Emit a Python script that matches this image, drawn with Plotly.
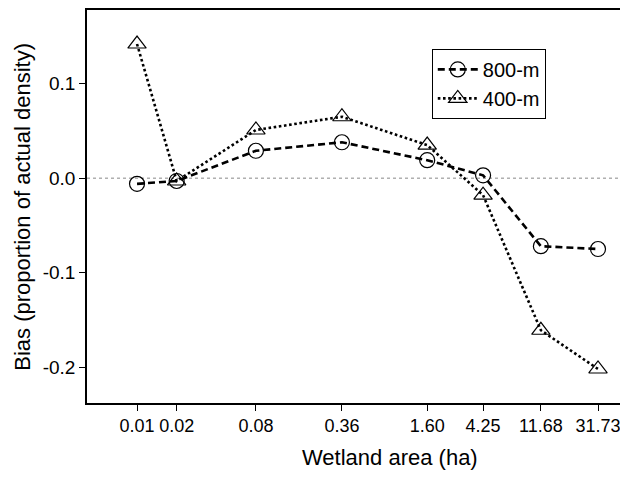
import plotly.graph_objects as go

# Data
area = [0.01, 0.02, 0.08, 0.36, 1.60, 4.25, 11.68, 31.73]
area_labels = ["0.01", "0.02", "0.08", "0.36", "1.60", "4.25", "11.68", "31.73"]
bias_800 = [-0.006, -0.003, 0.029, 0.038, 0.019, 0.003, -0.072, -0.075]
bias_400 = [0.142, -0.003, 0.051, 0.065, 0.035, -0.018, -0.161, -0.202]
y_ticks = [0.1, 0.0, -0.1, -0.2]
y_labels = ["0.1", "0.0", "-0.1", "-0.2"]

FONT = "Arial, Liberation Sans, sans-serif"

fig = go.Figure()
fig.add_trace(go.Scatter(
    x=area, y=bias_800, name="800-m", mode="lines+markers",
    line=dict(color="black", width=2.6, dash="7px,4px"),
    marker=dict(symbol="circle-open", size=15, color="black", line=dict(width=1.2)),
))
fig.add_trace(go.Scatter(
    x=area, y=bias_400, name="400-m", mode="lines+markers",
    line=dict(color="black", width=2.6, dash="2.6px,2.6px"),
    marker=dict(symbol="triangle-up-open", size=16, color="black", line=dict(width=1.2)),
))

fig.add_shape(type="line", xref="paper", x0=0, x1=1, yref="y", y0=0, y1=0,
              line=dict(color="#888888", width=1, dash="dot"), layer="below")

fig.add_annotation(text="Wetland area (ha)", xref="paper", yref="paper",
                   x=0.552, y=-0.139, xanchor="center", yanchor="middle",
                   showarrow=False, font=dict(family=FONT, size=22, color="black"))
fig.add_annotation(text="Bias (proportion of actual density)", xref="paper", yref="paper",
                   x=-0.118, y=0.50, xanchor="center", yanchor="middle", textangle=-90,
                   showarrow=False, font=dict(family=FONT, size=22, color="black"))

fig.update_layout(
    width=628, height=480,
    margin=dict(l=79, r=0, t=0, b=85),
    paper_bgcolor="white", plot_bgcolor="white",
    font=dict(family=FONT, size=18, color="black"),
    showlegend=True,
    legend=dict(x=0.628, y=0.901, xanchor="left", yanchor="top",
                bordercolor="black", borderwidth=1, bgcolor="white",
                font=dict(family=FONT, size=20, color="black"),
                tracegroupgap=0, itemwidth=40),
)
fig.update_xaxes(
    type="log", range=[-2.380, 1.790],
    tickvals=area, ticktext=area_labels,
    ticks="outside", ticklen=6, tickwidth=1, tickcolor="black",
    showline=True, linecolor="black", linewidth=1.5, mirror=True,
    showgrid=False, zeroline=False,
    tickfont=dict(family=FONT, size=18, color="black"),
)
fig.update_yaxes(
    range=[-0.238, 0.178],
    tickvals=y_ticks, ticktext=y_labels,
    ticks="outside", ticklen=6, tickwidth=1, tickcolor="black",
    showline=True, linecolor="black", linewidth=1.5, mirror=False,
    showgrid=False, zeroline=False,
    tickfont=dict(family=FONT, size=19, color="black"),
)

fig.write_html("out.html")
